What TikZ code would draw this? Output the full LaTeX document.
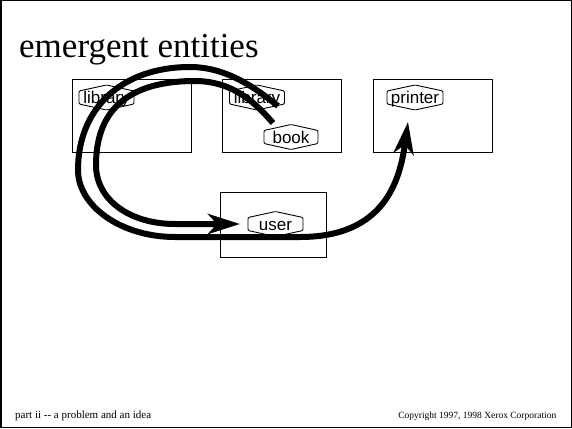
\documentclass[tikz,border=0pt]{standalone}
\usepackage{fontspec}
\setmainfont{Liberation Serif}
\newfontfamily\hexfont{Liberation Sans}
\usetikzlibrary{arrows.meta,calc}
\tikzset{
  box/.style={draw, line width=0.9pt, fill=white, inner sep=0pt},
  hexlabel/.style={inner sep=0pt, font=\hexfont\fontsize{17}{20}\selectfont, text height=13pt, text depth=1pt},
  hexline/.style={draw, line width=0.9pt, rounded corners=1.2pt},
  flow/.style={line width=6pt, -{Stealth[length=32pt,width=20pt,inset=9pt]}},
  foot/.style={inner sep=0pt},
}
\begin{document}
\begin{tikzpicture}[x=1pt,y=-1pt]
\useasboundingbox (0,0) rectangle (572,428);
\draw[line width=1.5pt] (0.75,0.75) rectangle (571.25,427.25);

\node[anchor=base west, inner sep=0pt, font=\fontsize{35}{40}\selectfont] (title) at (19,57) {emergent entities};

% boxes
\node[box, minimum width=119pt, minimum height=73pt] (box1) at (131.5,115.5) {};
\node[box, minimum width=119pt, minimum height=73pt] (box2) at (281.5,115.5) {};
\node[box, minimum width=119pt, minimum height=73pt] (box3) at (432.5,115.5) {};
\node[box, minimum width=106pt, minimum height=65pt] (box4) at (273,224.5) {};

% hexagon labels
\node[hexlabel] (lib1) at (106.5,97.5) {library};
\node[hexlabel] (lib2) at (257,97.5) {library};
\node[hexlabel] (book) at (291,137) {book};
\node[hexlabel] (printer) at (415,97.5) {printer};
\node[hexlabel] (user) at (275.5,224) {user};
\foreach \n/\w in {lib1/27.5, lib2/27.5, book/27, printer/28, user/27.5}{
  \draw[hexline] ($(\n.center)+(-\w,-6.5)$) -- ($(\n.center)+(0,-12.5)$) -- ($(\n.center)+(\w,-6.5)$)
    -- ($(\n.center)+(\w,6.5)$) -- ($(\n.center)+(0,12.5)$) -- ($(\n.center)+(-\w,6.5)$) -- cycle;
}

% flow arrows
\coordinate (s1) at (278,106);
\coordinate (p1) at (408,122);
\coordinate (s2) at (273,123);
\coordinate (u1) at (240,224);
\draw[flow] (s1) .. controls (258,90) and (228,67) .. (190,67)
  .. controls (122,67) and (78,108) .. (78,170)
  .. controls (78,206) and (121,237) .. (175,237) -- (300,237)
  .. controls (385,237) and (400,180) .. (p1);
\draw[flow] (s2) .. controls (258,106) and (235,81) .. (195,81)
  .. controls (124,81) and (96,114) .. (96,165)
  .. controls (96,200) and (130,224) .. (175,224) -- (u1);

% footer
\node[foot, anchor=base west, font=\fontsize{11}{13}\selectfont] (foot1) at (15,418.5) {part ii -{}- a problem and an idea};
\node[foot, anchor=base east, font=\fontsize{9.5}{12}\selectfont] (foot2) at (556.5,418.5) {Copyright 1997, 1998 Xerox Corporation};
\end{tikzpicture}
\end{document}
